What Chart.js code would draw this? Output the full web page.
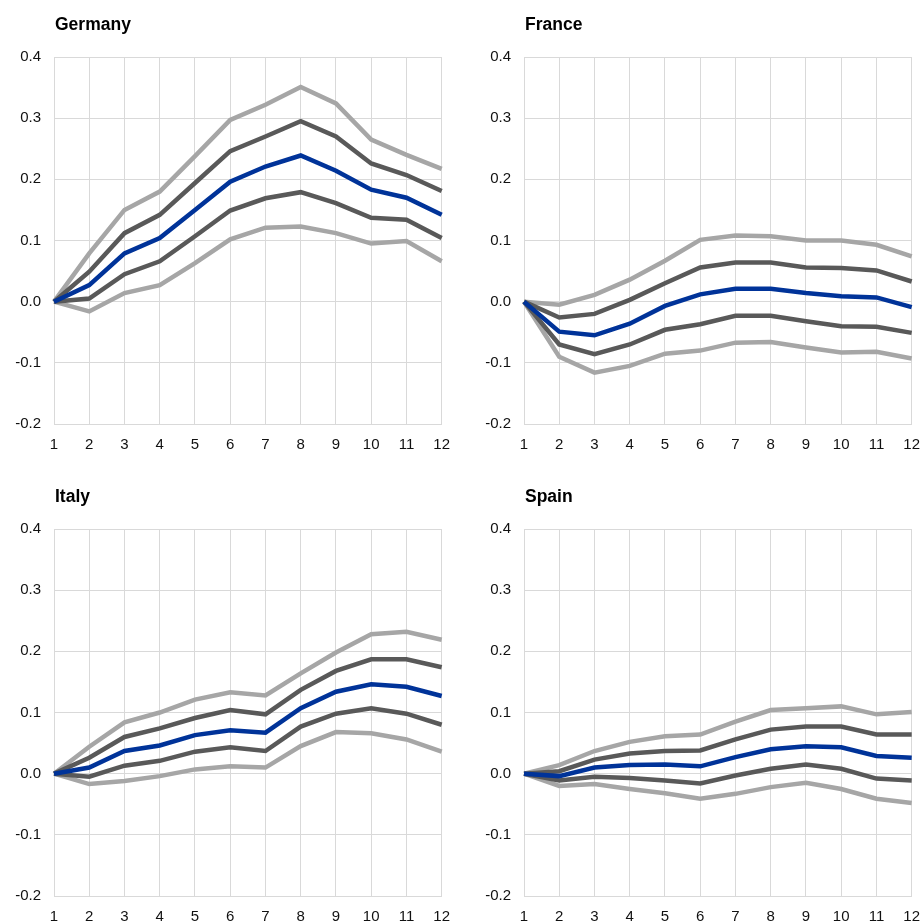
<!DOCTYPE html>
<html>
<head>
<meta charset="utf-8">
<script src="https://cdn.jsdelivr.net/npm/chart.js@4.4.1/dist/chart.umd.min.js"></script>
<style>
    body { margin: 0; background: #ffffff; width: 921px; height: 922px; overflow: hidden; }
    .panel { position: absolute; width: 451px; height: 450px; }
    .panel_title {
        position: absolute; left: 55px; top: 13px;
        font-family: "Liberation Sans", Arial, sans-serif; font-weight: bold;
        font-size: 17.5px; line-height: 22px; color: #000000;
    }
    .panel canvas { position: absolute; left: 0; top: 0; }
</style>
</head>
<body>

<div class="panel" style="left:0px; top:0px;">
    <canvas id="germanyChart" width="451" height="450"></canvas>
    <div class="panel_title">Germany</div>
</div>
<div class="panel" style="left:470px; top:0px;">
    <canvas id="franceChart" width="451" height="450"></canvas>
    <div class="panel_title">France</div>
</div>
<div class="panel" style="left:0px; top:472px;">
    <canvas id="italyChart" width="451" height="450"></canvas>
    <div class="panel_title">Italy</div>
</div>
<div class="panel" style="left:470px; top:472px;">
    <canvas id="spainChart" width="451" height="450"></canvas>
    <div class="panel_title">Spain</div>
</div>

<script>
    const horizons = ["1", "2", "3", "4", "5", "6", "7", "8", "9", "10", "11", "12"];
    const y_ticks = [-0.2, -0.1, 0.0, 0.1, 0.2, 0.3, 0.4];

    // Germany
    const de_median      = [0, 0.027, 0.079, 0.104, 0.150, 0.196, 0.221, 0.239, 0.214, 0.183, 0.170, 0.142];
    const de_upper_inner = [0, 0.049, 0.112, 0.142, 0.194, 0.246, 0.270, 0.295, 0.270, 0.226, 0.207, 0.181];
    const de_lower_inner = [0, 0.005, 0.045, 0.066, 0.107, 0.149, 0.169, 0.179, 0.161, 0.137, 0.134, 0.104];
    const de_upper_outer = [0, 0.079, 0.150, 0.180, 0.238, 0.297, 0.322, 0.351, 0.324, 0.265, 0.240, 0.217];
    const de_lower_outer = [0, -0.016, 0.014, 0.027, 0.063, 0.102, 0.121, 0.123, 0.112, 0.095, 0.099, 0.066];

    // France
    const fr_median      = [0, -0.049, -0.055, -0.036, -0.007, 0.012, 0.021, 0.021, 0.014, 0.009, 0.007, -0.009];
    const fr_upper_inner = [0, -0.026, -0.020, 0.003, 0.030, 0.056, 0.064, 0.064, 0.056, 0.055, 0.051, 0.033];
    const fr_lower_inner = [0, -0.070, -0.086, -0.070, -0.046, -0.037, -0.023, -0.023, -0.032, -0.040, -0.041, -0.051];
    const fr_upper_outer = [0, -0.005, 0.011, 0.036, 0.067, 0.101, 0.108, 0.107, 0.100, 0.100, 0.093, 0.074];
    const fr_lower_outer = [0, -0.090, -0.116, -0.105, -0.085, -0.080, -0.067, -0.066, -0.075, -0.083, -0.082, -0.093];

    // Italy
    const it_median      = [0, 0.010, 0.037, 0.046, 0.063, 0.071, 0.067, 0.107, 0.134, 0.146, 0.142, 0.127];
    const it_upper_inner = [0, 0.026, 0.060, 0.074, 0.091, 0.104, 0.097, 0.137, 0.168, 0.187, 0.187, 0.174];
    const it_lower_inner = [0, -0.005, 0.013, 0.021, 0.036, 0.043, 0.037, 0.077, 0.098, 0.107, 0.098, 0.080];
    const it_upper_outer = [0, 0.044, 0.084, 0.100, 0.121, 0.133, 0.128, 0.164, 0.198, 0.228, 0.232, 0.219];
    const it_lower_outer = [0, -0.017, -0.012, -0.004, 0.007, 0.012, 0.010, 0.045, 0.068, 0.066, 0.056, 0.036];

    // Spain
    const es_median      = [0, -0.004, 0.010, 0.014, 0.015, 0.012, 0.027, 0.040, 0.045, 0.043, 0.029, 0.026];
    const es_upper_inner = [0, 0.004, 0.023, 0.033, 0.037, 0.038, 0.056, 0.072, 0.077, 0.077, 0.064, 0.064];
    const es_lower_inner = [0, -0.011, -0.005, -0.007, -0.011, -0.016, -0.003, 0.008, 0.015, 0.008, -0.008, -0.011];
    const es_upper_outer = [0, 0.014, 0.037, 0.052, 0.061, 0.064, 0.085, 0.104, 0.107, 0.110, 0.097, 0.101];
    const es_lower_outer = [0, -0.020, -0.017, -0.025, -0.032, -0.041, -0.033, -0.022, -0.015, -0.025, -0.041, -0.048];

    const blue = "#003399";
    const dark_grey = "#595959";
    const light_grey = "#a6a6a6";
    const grid_colour = "#d9d9d9";
    const font_family = "'Liberation Sans', Arial, sans-serif";

    function line_set(values, colour) {
        return {
            data: values,
            borderColor: colour,
            borderWidth: 4.5,
            pointRadius: 0,
            tension: 0,
            fill: false
        };
    }

    function make_chart(canvas_id, median, upper_inner, lower_inner, upper_outer, lower_outer) {
        // first dataset is drawn on top
        new Chart(document.getElementById(canvas_id), {
            type: "line",
            data: {
                labels: horizons,
                datasets: [
                    line_set(median, blue),
                    line_set(upper_inner, dark_grey),
                    line_set(lower_inner, dark_grey),
                    line_set(upper_outer, light_grey),
                    line_set(lower_outer, light_grey)
                ]
            },
            options: {
                responsive: false,
                animation: false,
                layout: { padding: { left: 0, top: 57, right: 0, bottom: 0 } },
                plugins: { legend: { display: false }, tooltip: { enabled: false } },
                scales: {
                    x: {
                        grid: { color: grid_colour, drawTicks: false },
                        border: { color: grid_colour },
                        ticks: {
                            color: "#111111", padding: 12, maxRotation: 0, autoSkip: false,
                            font: { family: font_family, size: 15 }
                        },
                        afterFit: function (scale) {
                            scale.height = 26;
                            scale.paddingLeft = 0;
                            scale.paddingRight = 9.3;
                        }
                    },
                    y: {
                        min: -0.2,
                        max: 0.4,
                        afterBuildTicks: function (scale) {
                            scale.ticks = y_ticks.map(function (v) { return { value: v }; });
                        },
                        grid: { color: grid_colour, drawTicks: false },
                        border: { color: grid_colour },
                        ticks: {
                            color: "#111111", padding: 13,
                            font: { family: font_family, size: 15 },
                            callback: function (value) { return Number(value).toFixed(1); }
                        },
                        afterFit: function (scale) { scale.width = 54; }
                    }
                }
            }
        });
    }

    make_chart("germanyChart", de_median, de_upper_inner, de_lower_inner, de_upper_outer, de_lower_outer);
    make_chart("franceChart", fr_median, fr_upper_inner, fr_lower_inner, fr_upper_outer, fr_lower_outer);
    make_chart("italyChart", it_median, it_upper_inner, it_lower_inner, it_upper_outer, it_lower_outer);
    make_chart("spainChart", es_median, es_upper_inner, es_lower_inner, es_upper_outer, es_lower_outer);
</script>
</body>
</html>
